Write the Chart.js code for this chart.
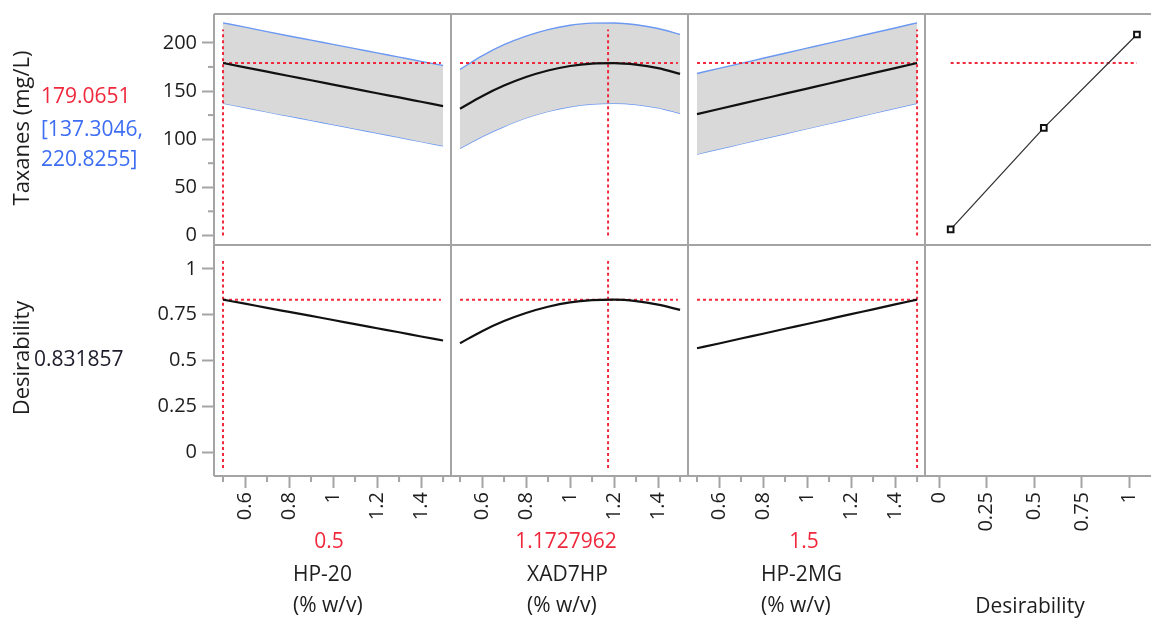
<!DOCTYPE html>
<html>
<head>
<meta charset="utf-8">
<script src="https://cdn.jsdelivr.net/npm/chart.js@4.4.1/dist/chart.umd.min.js"></script>
<style>
  html, body { margin: 0; padding: 0; background: #fff; }
  #wrap { position: relative; width: 1151px; height: 621px; overflow: hidden; }
</style>
</head>
<body>
<div id="wrap"><canvas id="profiler" width="1151" height="621"></canvas></div>
<script>
const factorX = [0.5, 0.6, 0.7, 0.8, 0.9, 1.0, 1.1, 1.2, 1.3, 1.4, 1.5];

// Taxanes (mg/L): prediction and confidence limits along each factor
const hp20Mean = [179.1, 174.6, 170.1, 165.6, 161.2, 156.7, 152.2, 147.7, 143.3, 138.8, 134.3];
const hp20Upper = [220.8, 216.3, 211.7, 207.2, 202.8, 198.4, 194.0, 189.6, 185.2, 180.8, 176.5];
const hp20Lower = [137.3, 132.8, 128.3, 123.9, 119.5, 115.1, 110.7, 106.3, 101.9, 97.4, 93.0];

const xad7Mean = [131.6, 144.6, 155.6, 164.5, 171.3, 176.0, 178.5, 179.0, 177.4, 173.7, 167.8];
const xad7Upper = [172.5, 186.6, 198.1, 207.0, 213.8, 218.3, 220.5, 220.7, 218.8, 214.9, 208.8];
const xad7Lower = [90.5, 102.6, 113.1, 122.0, 128.8, 133.7, 136.5, 137.3, 136.0, 132.5, 126.8];

const hp2mgMean = [126.0, 131.3, 136.6, 141.9, 147.2, 152.5, 157.8, 163.2, 168.5, 173.8, 179.1];
const hp2mgUpper = [168.2, 173.5, 178.7, 184.0, 189.2, 194.5, 199.8, 205.0, 210.3, 215.5, 220.8];
const hp2mgLower = [84.4, 89.7, 95.0, 100.3, 105.6, 110.9, 116.1, 121.4, 126.7, 132.0, 137.3];

// Desirability along each factor
const hp20Desir = [0.832, 0.810, 0.787, 0.765, 0.743, 0.721, 0.698, 0.676, 0.654, 0.631, 0.609];
const xad7Desir = [0.594, 0.660, 0.715, 0.759, 0.793, 0.817, 0.829, 0.832, 0.824, 0.805, 0.776];
const hp2mgDesir = [0.567, 0.593, 0.620, 0.646, 0.673, 0.699, 0.726, 0.753, 0.779, 0.806, 0.832];

// desirability function of the response (desirability, taxanes)
const desirFnX = [0.06, 0.55, 1.04];
const desirFnY = [6.2, 111.7, 208.7];

// current settings
const factorNames = ['HP-20', 'XAD7HP', 'HP-2MG'];
const factorUnit = '(% w/v)';
const currentX = [0.5, 1.1727962, 1.5];
const currentXText = ['0.5', '1.1727962', '1.5'];
const predicted = 179.0651;
const predictedText = '179.0651';
const ciText = ['[137.3046,', '220.8255]'];
const currentDesir = 0.831857;
const currentDesirText = '0.831857';

// axis ticks
const factorTicks = [0.6, 0.8, 1.0, 1.2, 1.4];
const factorTickLabels = ['0.6', '0.8', '1', '1.2', '1.4'];
const factorMinor = [0.5, 0.7, 0.9, 1.1, 1.3, 1.5];
const desirTicks = [0, 0.25, 0.5, 0.75, 1];
const desirTickLabels = ['0', '0.25', '0.5', '0.75', '1'];
const taxTicks = [0, 50, 100, 150, 200];
const taxTickLabels = ['0', '50', '100', '150', '200'];
const taxMinor = [25, 75, 125, 175];

const FONT = "'Open Sans', 'Noto Sans', sans-serif";
const GRAY = '#a4a4a4';
const RED = '#f0283c';
const BLUE = '#3d6df2';
const TEXT = '#1e1e1e';

function pts(xs, ys) {
  return xs.map((x, i) => ({ x, y: ys[i] }));
}

function trace(xId, yId, xs, ys, extra) {
  return Object.assign({
    xAxisID: xId, yAxisID: yId, data: pts(xs, ys),
    pointRadius: 0, fill: false, cubicInterpolationMode: 'monotone'
  }, extra);
}

function meanLine(xId, yId, ys) {
  return trace(xId, yId, factorX, ys, { borderColor: '#111', borderWidth: 2.2, order: 1 });
}

function band(xId, upper, lower) {
  return [
    trace(xId, 'yT', factorX, upper, { borderColor: '#6b98f2', borderWidth: 1.4, fill: '+1', backgroundColor: '#d9d9d9', order: 3 }),
    trace(xId, 'yT', factorX, lower, { borderColor: '#6b98f2', borderWidth: 1.4, order: 3 })
  ];
}

function redLine(xId, yId, xs, ys) {
  return trace(xId, yId, xs, ys, { borderColor: RED, borderWidth: 2, borderDash: [3, 3], order: 2 });
}

const xIds = ['x1', 'x2', 'x3'];
const means = [hp20Mean, xad7Mean, hp2mgMean];
const uppers = [hp20Upper, xad7Upper, hp2mgUpper];
const lowers = [hp20Lower, xad7Lower, hp2mgLower];
const desirs = [hp20Desir, xad7Desir, hp2mgDesir];

const datasets = [];
xIds.forEach((id, i) => {
  datasets.push(...band(id, uppers[i], lowers[i]));
  datasets.push(meanLine(id, 'yT', means[i]));
  datasets.push(meanLine(id, 'yB', desirs[i]));
  datasets.push(redLine(id, 'yT', [0.5, 1.49], [predicted, predicted]));
  datasets.push(redLine(id, 'yT', [currentX[i], currentX[i]], [0, 214]));
  datasets.push(redLine(id, 'yB', [0.5, 1.49], [currentDesir, currentDesir]));
  datasets.push(redLine(id, 'yB', [currentX[i], currentX[i]], [-0.086, 1.047]));
});
datasets.push(redLine('x4', 'yT', [desirFnX[0], desirFnX[2]], [predicted, predicted]));
datasets.push(trace('x4', 'yT', desirFnX, desirFnY, {
  borderColor: '#333', borderWidth: 1.3, cubicInterpolationMode: 'default', tension: 0,
  pointRadius: 4, pointStyle: 'rect', pointBorderWidth: 2, pointBorderColor: '#111',
  pointBackgroundColor: '#fff', order: 1
}));

const tickFont = { family: FONT, size: 20 };

// column widths in the stack: the last one is cut by the right edge of the picture
function xScale(weight, min, max, ticks, labels) {
  return {
    type: 'linear', position: 'bottom', stack: 'cols', stackWeight: weight, min, max,
    afterBuildTicks: s => { s.ticks = ticks.map(v => ({ value: v })); },
    afterFit: s => { s.height = 145; s.paddingLeft = 0; s.paddingRight = 0; },
    ticks: { font: tickFont, color: TEXT, minRotation: 90, maxRotation: 90, autoSkip: false, padding: 4,
      callback: (v, i) => labels[i] },
    grid: { drawOnChartArea: false, drawTicks: true, tickLength: 12, tickWidth: 2, tickColor: GRAY },
    border: { display: false }
  };
}

function yScale(weight, min, max, ticks, labels) {
  return {
    type: 'linear', position: 'left', stack: 'rows', stackWeight: 1, weight, min, max,
    afterBuildTicks: s => { s.ticks = ticks.map(v => ({ value: v })); },
    afterFit: s => { s.width = 214; s.paddingTop = 0; s.paddingBottom = 0; },
    ticks: { font: tickFont, color: TEXT, padding: 5, callback: (v, i) => labels[i] },
    grid: { drawOnChartArea: false, drawTicks: true, tickLength: 12, tickWidth: 2, tickColor: GRAY },
    border: { display: false }
  };
}

// frames, minor ticks and the side/bottom texts
const profilerDecor = {
  id: 'profilerDecor',
  afterDraw(chart) {
    const ctx = chart.ctx;
    const s = chart.scales;
    const line = (x1, y1, x2, y2) => { ctx.beginPath(); ctx.moveTo(x1, y1); ctx.lineTo(x2, y2); ctx.stroke(); };
    ctx.save();
    ctx.strokeStyle = GRAY;
    ctx.lineWidth = 2;
    const left = s.x1.left, right = s.x4.right;
    [s.yT.top, s.yB.top, s.yB.bottom].forEach(y => line(left, y, right, y));
    ['x1', 'x2', 'x3', 'x4'].forEach(id => line(s[id].left, s.yT.top, s[id].left, s.yB.bottom));
    xIds.forEach(id => factorMinor.forEach(v => {
      const px = s[id].getPixelForValue(v);
      line(px, s[id].top, px, s[id].top + 6);
    }));
    taxMinor.forEach(v => {
      const py = s.yT.getPixelForValue(v);
      line(s.yT.right - 6, py, s.yT.right, py);
    });

    const text = (str, x, y, color, size, align, rot) => {
      ctx.save();
      ctx.translate(x, y);
      if (rot) ctx.rotate(rot);
      ctx.font = size + 'px ' + FONT;
      ctx.fillStyle = color;
      ctx.textAlign = align;
      ctx.textBaseline = 'middle';
      ctx.fillText(str, 0, 0);
      ctx.restore();
    };
    text('Taxanes (mg/L)', 23, 128, TEXT, 22, 'center', -Math.PI / 2);
    text(predictedText, 41, 97, RED, 21, 'left');
    text(ciText[0], 41, 130, BLUE, 21, 'left');
    text(ciText[1], 41, 160, BLUE, 21, 'left');
    text('Desirability', 23, 358, TEXT, 22, 'center', -Math.PI / 2);
    text(currentDesirText, 34, 360, '#1c1c2a', 21, 'left');

    const valueX = [329, 566, 804];
    const nameX = [293, 527, 761];
    factorNames.forEach((n, i) => {
      text(currentXText[i], valueX[i], 542, RED, 21, 'center');
      text(n, nameX[i], 575, TEXT, 21, 'left');
      text(factorUnit, nameX[i], 606, TEXT, 21, 'left');
    });
    text('Desirability', 1030, 607, TEXT, 21, 'center');
    ctx.restore();
  }
};

new Chart(document.getElementById('profiler'), {
  type: 'line',
  data: { datasets },
  options: {
    responsive: false,
    animation: false,
    devicePixelRatio: 1,
    layout: { autoPadding: false, padding: { top: 14, left: 0, right: 0, bottom: 0 } },
    plugins: { legend: { display: false }, tooltip: { enabled: false } },
    scales: {
      x1: xScale(237, 0.459, 1.536, factorTicks, factorTickLabels),
      x2: xScale(237, 0.459, 1.536, factorTicks, factorTickLabels),
      x3: xScale(237, 0.459, 1.536, factorTicks, factorTickLabels),
      x4: xScale(226, -0.075, 1.114, desirTicks, desirTickLabels),
      yB: yScale(0, -0.13, 1.13, desirTicks, desirTickLabels),
      yT: yScale(1, -10, 230, taxTicks, taxTickLabels)
    }
  },
  plugins: [profilerDecor]
});
</script>
</body>
</html>
